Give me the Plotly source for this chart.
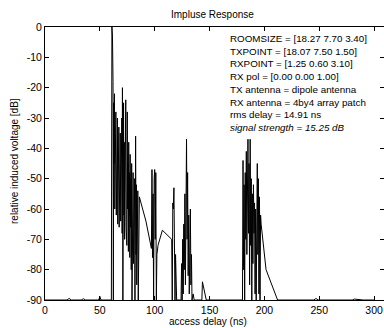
import plotly.graph_objects as go

delay_ns = [0, 20, 22, 24, 33, 35, 37, 49, 50, 51, 60.5, 61, 61.5, 62, 62.3, 62.6, 63, 63.3, 63.6, 64,
            64.3, 64.6, 65, 65.3, 65.6, 66, 66.3, 66.6, 67, 67.3, 67.6, 68, 68.3, 68.6, 69, 69.3, 69.6, 70,
            70.3, 70.6, 71, 71.3, 71.6, 72, 72.3, 72.6, 73, 73.3, 73.6, 74, 74.3, 74.6, 75, 75.3, 75.6, 76,
            76.3, 76.6, 77, 77.3, 77.6, 78, 78.3, 78.6, 79, 79.3, 79.6, 80, 80.3, 80.6, 81, 81.3, 81.6, 82,
            82.3, 82.6, 83, 83.3, 83.6, 84, 84.3, 84.6, 85, 85.3, 86, 92, 97, 97.5, 98, 98.5, 99, 99.5, 100,
            100.5, 101, 101.5, 102, 103, 107, 115.5, 116, 116.5, 117, 117.5, 118, 118.5, 119, 120, 124,
            124.5, 125, 125.5, 126, 126.5, 127, 127.5, 128, 128.5, 129, 129.5, 130, 130.5, 131, 131.5, 132,
            132.5, 133, 133.5, 134, 135, 136, 143, 143.5, 145, 147, 180, 180.5, 181, 181.5, 182, 182.5, 183,
            183.5, 184, 184.5, 185, 185.5, 186, 186.5, 187, 187.5, 188, 188.5, 189, 189.5, 190, 190.5, 191,
            191.5, 192, 192.5, 193, 193.5, 194, 194.5, 195, 195.5, 196, 196.5, 197, 201.5, 212, 245, 247,
            249, 280, 282, 290, 300]
level_db = [-90, -90, -89.5, -90, -90, -89.6, -90, -90, -88.8, -90, -90, 0, -3, -18, -90, -25, -45, -22, -60, -30,
            -55, -28, -62, -35, -58, -30, -65, -38, -55, -33, -66, -40, -60, -35, -64, -42, -58, -30,
            -68, -20, -90, -45, -25, -62, -38, -70, -30, -58, -24, -66, -40, -72, -28, -60, -45, -74,
            -38, -62, -48, -76, -42, -66, -50, -80, -45, -90, -52, -70, -48, -78, -55, -68, -50, -90,
            -58, -36, -75, -52, -85, -56, -72, -54, -90, -58, -56, -64, -73, -47, -76, -55, -90, -50, -47,
            -70, -48, -90, -75, -72, -67, -70, -90, -58, -60, -53, -66, -90, -75, -90, -90,
            -78, -90, -70, -88, -65, -80, -55, -85, -45, -37, -70, -48, -82, -62, -88, -70,
            -60, -85, -75, -90, -88, -90, -90, -84, -87, -90, -90, -44, -80, -52, -90, -48, -70,
            -41, -75, -50, -37, -68, -45, -85, -37, -72, -50, -90, -55, -78, -52, -68, -58,
            -88, -60, -90, -62, -45, -75, -50, -88, -56, -90, -62, -65, -80, -90, -90, -89.5,
            -90, -90, -89.7, -90, -90]

x_ticks = [0, 50, 100, 150, 200, 250, 300]
y_ticks = [0, -10, -20, -30, -40, -50, -60, -70, -80, -90]

info_lines = [
    "ROOMSIZE = [18.27 7.70 3.40]",
    "TXPOINT = [18.07 7.50 1.50]",
    "RXPOINT = [1.25 0.60 3.10]",
    "RX pol = [0.00 0.00 1.00]",
    "TX antenna = dipole antenna",
    "RX antenna = 4by4 array patch",
    "rms delay = 14.91 ns",
    "<i>signal strength = 15.25 dB</i>",
]

W, H = 384, 328
L, R, T, B = 45, 0, 27, 28
pw, ph = W - L - R, H - T - B

def px(xp):
    return (xp - L) / pw

def py(yp):
    return (H - B - yp) / ph

font = "Liberation Sans, Arial, sans-serif"

fig = go.Figure()
fig.add_trace(go.Scatter(x=delay_ns, y=level_db, mode="lines",
                         line=dict(color="black", width=1), showlegend=False))

axis_common = dict(showline=True, linecolor="black", linewidth=1, mirror="ticks",
                   ticks="inside", ticklen=4, tickcolor="black", showgrid=False,
                   zeroline=False, tickfont=dict(family=font, size=10.5, color="black"))

fig.update_xaxes(range=[0, 309], tickvals=x_ticks, ticktext=[str(v) for v in x_ticks], **axis_common)
fig.update_yaxes(range=[-90, 0], tickvals=y_ticks, ticktext=[str(v) for v in y_ticks], **axis_common)

fig.add_annotation(xref="paper", yref="paper", x=px(228), y=py(31), xanchor="left", yanchor="top",
                   align="left", showarrow=False, text="<br>".join(info_lines),
                   font=dict(family=font, size=9.8, color="black"))
fig.add_annotation(xref="paper", yref="paper", x=px(212), y=py(15), xanchor="center", yanchor="middle",
                   showarrow=False, text="Impluse Response",
                   font=dict(family=font, size=10, color="black"))
fig.add_annotation(xref="paper", yref="paper", x=px(208), y=py(321), xanchor="center", yanchor="middle",
                   showarrow=False, text="access delay (ns)",
                   font=dict(family=font, size=10, color="black"))
fig.add_annotation(xref="paper", yref="paper", x=px(14), y=py(161), xanchor="center", yanchor="middle",
                   showarrow=False, text="relative induced voltage [dB]", textangle=-90,
                   font=dict(family=font, size=10, color="black"))

fig.update_layout(width=W, height=H, margin=dict(l=L, r=R, t=T, b=B),
                  paper_bgcolor="white", plot_bgcolor="white")

fig.write_html("out.html", config={"displayModeBar": False},
               post_script="document.body.style.margin='0';document.body.style.overflow='hidden';")
